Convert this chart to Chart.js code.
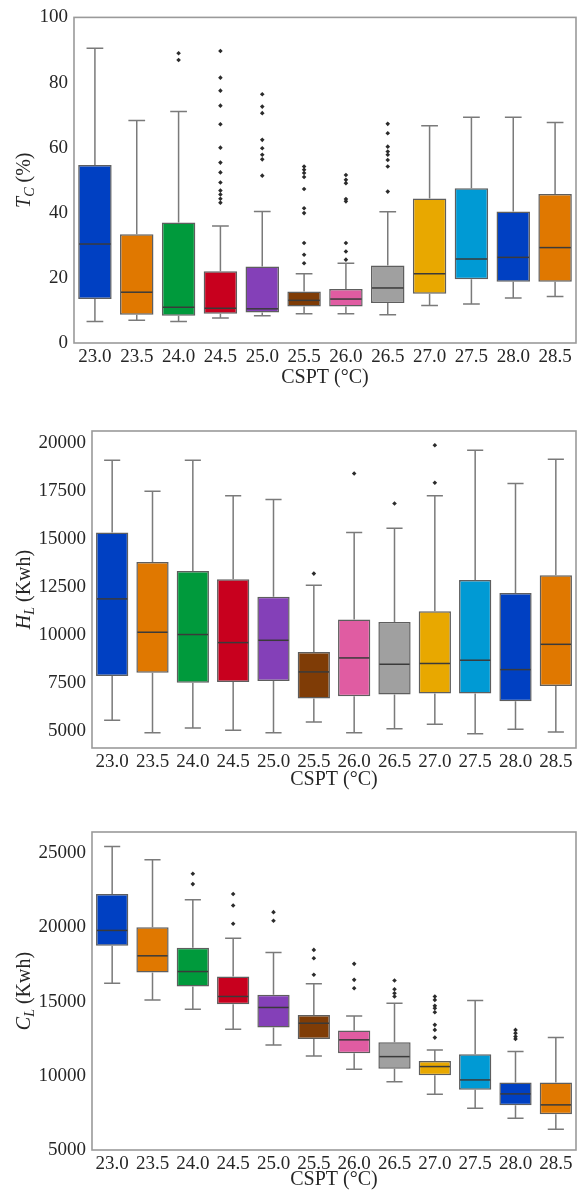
<!DOCTYPE html>
<html>
<head>
<meta charset="utf-8">
<script src="https://cdn.jsdelivr.net/npm/chart.js@4.4.1/dist/chart.umd.min.js"></script>
<style>
  html, body { margin: 0; padding: 0; background: #fff; }
  body { width: 580px; height: 1193px; position: relative; overflow: hidden; }
  .panel { position: absolute; left: 0; width: 580px; }
</style>
</head>
<body>
<div class="panel" style="top:0"><canvas id="tcChart" width="580" height="392"></canvas></div>
<div class="panel" style="top:400px"><canvas id="hlChart" width="580" height="392"></canvas></div>
<div class="panel" style="top:800px"><canvas id="clChart" width="580" height="393"></canvas></div>
<script>
const categories = ['23.0', '23.5', '24.0', '24.5', '25.0', '25.5', '26.0', '26.5', '27.0', '27.5', '28.0', '28.5'];
const boxColors = ['#0040c2', '#e07800', '#009a3c', '#c8001e', '#8440b8', '#7f3c06',
                   '#e05ca2', '#a0a0a0', '#e8a800', '#009ad4', '#0040c2', '#e07800'];

// T_C (%)
const tcLow  = [6.6, 7.0, 6.6, 7.7, 8.4, 9.0, 9.0, 8.7, 11.5, 12.0, 13.8, 14.3];
const tcQ1   = [13.5, 8.7, 8.4, 9.0, 9.4, 11.2, 11.2, 12.3, 15.1, 19.6, 18.8, 18.8];
const tcMed  = [30.4, 15.6, 11.0, 10.7, 10.5, 13.1, 13.5, 16.9, 21.3, 25.8, 26.3, 29.3];
const tcQ3   = [54.7, 33.4, 37.0, 22.0, 23.5, 15.8, 16.6, 23.8, 44.4, 47.5, 40.4, 45.8];
const tcHigh = [90.5, 68.3, 71.1, 35.9, 40.4, 21.3, 24.5, 40.3, 66.7, 69.3, 69.3, 67.7];
const tcOut  = [[], [], [89.0, 86.9],
  [89.7, 81.5, 77.5, 72.9, 67.2, 60.0, 55.4, 52.4, 49.3, 46.8, 45.6, 44.3, 43.1],
  [76.4, 72.6, 70.6, 62.4, 59.8, 57.8, 56.4, 51.4],
  [54.2, 53.2, 52.2, 51.0, 47.3, 41.4, 39.9, 30.7, 27.1, 24.5],
  [51.6, 50.1, 49.1, 44.2, 43.5, 30.7, 28.1, 25.6],
  [67.3, 64.4, 60.3, 58.8, 57.8, 56.2, 54.2, 46.5],
  [], [], [], []];
const tcTicks = [0, 20, 40, 60, 80, 100];

// H_L (Kwh)
const hlLow  = [5560, 4900, 5160, 5040, 4900, 5470, 4900, 5120, 5350, 4860, 5090, 4950];
const hlQ1   = [7870, 8030, 7520, 7560, 7610, 6690, 6810, 6900, 6950, 6950, 6550, 7350];
const hlMed  = [11890, 10150, 10030, 9610, 9730, 8080, 8810, 8480, 8520, 8690, 8200, 9520];
const hlQ3   = [15350, 13810, 13340, 12920, 12000, 9120, 10810, 10690, 11250, 12870, 12200, 13130];
const hlHigh = [19130, 17510, 19130, 17270, 17080, 12600, 15350, 15580, 17270, 19650, 17910, 19180];
const hlOut  = [[], [], [], [], [], [13210], [18430], [16870], [19910, 17950], [], [], []];
const hlTicks = [5000, 7500, 10000, 12500, 15000, 17500, 20000];

// C_L (Kwh)
const clLow  = [16240, 15110, 14480, 13140, 12080, 11340, 10440, 9590, 8750, 7810, 7140, 6400];
const clQ1   = [18750, 16960, 16010, 14820, 13250, 12480, 11520, 10480, 10030, 9050, 8010, 7410];
const clMed  = [19790, 18080, 17020, 15340, 14600, 13540, 12420, 11290, 10620, 9720, 8780, 8040];
const clQ3   = [22240, 20010, 18620, 16690, 15450, 14100, 13050, 12260, 11000, 11450, 9540, 9540];
const clHigh = [25450, 24550, 21850, 19270, 18300, 16190, 14030, 14890, 11740, 15070, 11630, 12570];
const clOut  = [[], [], [23610, 22910], [22240, 21470, 20240], [21020, 20440],
  [18480, 17920, 16800], [17540, 16460, 15900], [16420, 15830, 15560, 15340],
  [15340, 15110, 14710, 14550, 14280, 13430, 13090, 12570], [], [13090, 12870, 12640, 12480], []];
const clTicks = [5000, 10000, 15000, 20000, 25000];

const SERIF = "'Liberation Serif', 'Times New Roman', serif";
const TEXT = '#262626';

function boxChart(id, st, geo) {
  // whiskers, caps and medians over the floating bars
  const whiskers = {
    id: 'whiskers',
    afterDatasetsDraw(chart) {
      const { ctx, scales: { y } } = chart;
      const bars = chart.getDatasetMeta(0).data;
      ctx.save();
      ctx.lineWidth = 1.5;
      bars.forEach((bar, i) => {
        const cx = bar.x, half = bar.width / 2, cap = bar.width / 4;
        const yLo = y.getPixelForValue(st.low[i]);
        const yHi = y.getPixelForValue(st.high[i]);
        const yQ1 = y.getPixelForValue(st.q1[i]);
        const yQ3 = y.getPixelForValue(st.q3[i]);
        const yMd = y.getPixelForValue(st.med[i]);
        ctx.strokeStyle = '#7a7a7a';
        ctx.beginPath();
        ctx.moveTo(cx, yQ3); ctx.lineTo(cx, yHi);
        ctx.moveTo(cx - cap, yHi); ctx.lineTo(cx + cap, yHi);
        ctx.moveTo(cx, yQ1); ctx.lineTo(cx, yLo);
        ctx.moveTo(cx - cap, yLo); ctx.lineTo(cx + cap, yLo);
        ctx.stroke();
        ctx.strokeStyle = '#3a3a3a';
        ctx.beginPath();
        ctx.moveTo(cx - half + 1, yMd); ctx.lineTo(cx + half - 1, yMd);
        ctx.stroke();
      });
      ctx.restore();
    }
  };

  // frame + y title with italic symbol and subscript
  const frame = {
    id: 'frame',
    afterDraw(chart) {
      const { ctx, chartArea: a } = chart;
      ctx.save();
      ctx.strokeStyle = '#9a9a9a';
      ctx.lineWidth = 1.6;
      ctx.strokeRect(a.left, a.top, a.right - a.left, a.bottom - a.top);

      const big = "italic 20px " + SERIF, small = "italic 14px " + SERIF, plain = "20px " + SERIF;
      ctx.font = big; const w1 = ctx.measureText(st.sym).width;
      ctx.font = small; const w2 = ctx.measureText(st.sub).width;
      ctx.font = plain; const w3 = ctx.measureText(st.unit).width;
      ctx.translate(25, (a.top + a.bottom) / 2);
      ctx.rotate(-Math.PI / 2);
      ctx.fillStyle = TEXT;
      ctx.textBaseline = 'middle';
      let x0 = -(w1 + w2 + w3) / 2;
      ctx.font = big; ctx.fillText(st.sym, x0, 0); x0 += w1;
      ctx.font = small; ctx.fillText(st.sub, x0, 5); x0 += w2;
      ctx.font = plain; ctx.fillText(st.unit, x0, 0);
      ctx.restore();
    }
  };

  const outliers = [];
  st.out.forEach((list, i) => list.forEach(v => outliers.push({ x: categories[i], y: v })));

  return new Chart(document.getElementById(id), {
    type: 'bar',
    data: {
      labels: categories,
      datasets: [{
        data: st.q1.map((v, i) => [v, st.q3[i]]),
        backgroundColor: boxColors,
        borderColor: '#5e5e5e',
        borderWidth: 1.5,
        borderSkipped: false,
        categoryPercentage: 1,
        barPercentage: 0.8
      }, {
        type: 'line',
        data: outliers,
        showLine: false,
        pointStyle: 'rectRot',
        pointRadius: 2.3,
        pointBackgroundColor: '#2b2b2b',
        pointBorderWidth: 0
      }]
    },
    options: {
      responsive: false,
      animation: false,
      events: [],
      layout: { padding: { top: geo.top, right: 2, left: 0, bottom: 0 } },
      plugins: { legend: { display: false }, tooltip: { enabled: false } },
      scales: {
        x: {
          grid: { display: false, drawTicks: false },
          border: { display: false },
          ticks: { color: TEXT, font: { family: SERIF, size: 19 }, padding: 3, maxRotation: 0, autoSkip: false },
          title: { display: true, text: 'CSPT (°C)', color: TEXT, font: { family: SERIF, size: 20 },
                   padding: { top: 0, bottom: geo.titlePad } },
          afterFit: sc => { sc.height = geo.xHeight; }
        },
        y: {
          min: st.min,
          max: st.max,
          grid: { display: false, drawTicks: false },
          border: { display: false },
          afterBuildTicks: sc => { sc.ticks = st.ticks.map(v => ({ value: v })); },
          ticks: { color: TEXT, font: { family: SERIF, size: 19 }, padding: 6, callback: v => String(v) },
          afterFit: sc => { sc.width = geo.yWidth; }
        }
      }
    },
    plugins: [whiskers, frame]
  });
}

boxChart('tcChart',
  { low: tcLow, q1: tcQ1, med: tcMed, q3: tcQ3, high: tcHigh, out: tcOut, ticks: tcTicks,
    min: 0, max: 100, sym: 'T', sub: 'C', unit: ' (%)' },
  { top: 17, yWidth: 74, xHeight: 49, titlePad: 2 });

boxChart('hlChart',
  { low: hlLow, q1: hlQ1, med: hlMed, q3: hlQ3, high: hlHigh, out: hlOut, ticks: hlTicks,
    min: 4110, max: 20650, sym: 'H', sub: 'L', unit: ' (Kwh)' },
  { top: 31, yWidth: 92, xHeight: 44, titlePad: 0 });

boxChart('clChart',
  { low: clLow, q1: clQ1, med: clMed, q3: clQ3, high: clHigh, out: clOut, ticks: clTicks,
    min: 5000, max: 26420, sym: 'C', sub: 'L', unit: ' (Kwh)' },
  { top: 32, yWidth: 92, xHeight: 43, titlePad: 1 });
</script>
</body>
</html>
